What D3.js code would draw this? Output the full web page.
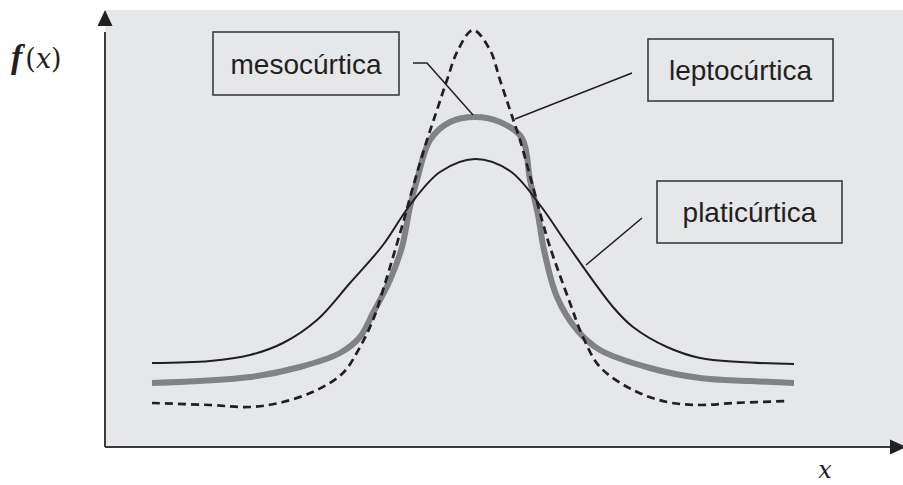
<!DOCTYPE html>
<meta charset="utf-8">
<style>
body { margin: 0; background: #fff; }
.curve { fill: none; }
.box rect { fill: #e6e7e9; stroke: #3d3b3c; stroke-width: 1.6; }
.box text { font-family: "Liberation Sans", Arial, sans-serif; font-size: 28px; fill: #231f20; text-anchor: middle; }
.leader { fill: none; stroke: #231f20; stroke-width: 1.5; }
.axis-line { stroke: #3d3b3c; stroke-width: 2; }
.lbl { fill: #231f20; }
</style>
<svg width="903" height="485"></svg>
<script src="https://d3js.org/d3.v7.min.js"></script>
<script>

// curves, x centred on the peak, y up from the x axis
var platiX = [-323, -265, -225, -192, -158, -125, -92, -65, -35, 0, 35, 65, 92, 138, 158, 192, 225, 265, 319];
var platiY = [84, 86, 92, 104, 127, 164, 202, 242, 275, 288, 276, 242, 203, 140, 120, 100, 89, 85, 83];

var mesoX = [-323, -225, -175, -135, -115, -102, -85, -73, -65, -58, -45, -25, 0, 25, 47, 55, 63, 69, 82, 102, 125, 175, 225, 275, 319];
var mesoY = [64, 70, 80, 94, 110, 134, 167, 200, 240, 267, 307, 325, 330, 325, 309, 267, 232, 197, 150, 117, 97, 79, 69, 66, 64];

var leptoX = [-323, -265, -225, -192, -158, -132, -115, -102, -92, -82, -72, -62, -48, -38, -28, -17, -2, 15, 25, 38, 45, 58, 67, 75, 95, 108, 125, 158, 192, 225, 258, 312];
var leptoY = [44, 42, 40, 45, 57, 74, 100, 127, 157, 190, 224, 260, 307, 337, 367, 397, 417, 397, 367, 328, 307, 260, 227, 200, 144, 110, 80, 57, 45, 42, 44, 46];

var labels = ["mesocúrtica", "leptocúrtica", "platicúrtica"];

var svg = d3.select("svg"),
    width = +svg.attr("width"),
    height = +svg.attr("height");

var x = d3.scaleLinear().domain([-370, 428]).range([105, 903]);
var y = d3.scaleLinear().domain([0, 437]).range([447, 10]);

// plot background
svg.append("rect")
    .attr("x", x(-370))
    .attr("y", y(437))
    .attr("width", x(428) - x(-370))
    .attr("height", y(0) - y(437))
    .style("fill", "#e6e7e9");

var line = d3.line()
    .x(function(d) { return x(d[0]); })
    .y(function(d) { return y(d[1]); })
    .curve(d3.curveCatmullRom.alpha(0.5));

function pts(xs, ys) { return xs.map(function(v, i) { return [v, ys[i]]; }); }

svg.append("path")
    .attr("class", "curve")
    .attr("d", line(pts(mesoX, mesoY)))
    .style("stroke", "#808285")
    .style("stroke-width", 6);

svg.append("path")
    .attr("class", "curve")
    .attr("d", line(pts(platiX, platiY)))
    .style("stroke", "#231f20")
    .style("stroke-width", 2);

svg.append("path")
    .attr("class", "curve")
    .attr("d", line(pts(leptoX, leptoY)))
    .style("stroke", "#231f20")
    .style("stroke-width", 2.7)
    .style("stroke-dasharray", "8,5");

// axes with arrow heads
svg.append("line").attr("class", "axis-line")
    .attr("x1", x(-370)).attr("y1", y(0))
    .attr("x2", x(-370)).attr("y2", y(415));
svg.append("line").attr("class", "axis-line")
    .attr("x1", x(-370)).attr("y1", y(0))
    .attr("x2", x(420)).attr("y2", y(0));

svg.append("path")
    .attr("d", "M" + x(-370) + "," + y(437) + "l-7.5,16l15,0z")
    .style("fill", "#231f20");
svg.append("path")
    .attr("d", "M" + (x(428) + 3) + "," + y(0) + "l-16,-7.5l0,15z")
    .style("fill", "#231f20");

// label boxes with leader lines, in data units
var boxes = [
  { cx: -169, cy: 383.5, w: 186, h: 63, lead: [[-62, 384], [-48, 384], [-2, 332]] },
  { cx: 265.5, cy: 377, w: 185, h: 62, lead: [[157, 374], [40, 328]] },
  { cx: 274.5, cy: 235, w: 185, h: 62, lead: [[167, 229], [111, 182]] }
];

var straight = d3.line()
    .x(function(d) { return x(d[0]); })
    .y(function(d) { return y(d[1]); });

boxes.forEach(function(b, i) {
  var g = svg.append("g").attr("class", "box");
  g.append("rect")
      .attr("x", x(b.cx) - b.w / 2)
      .attr("y", y(b.cy) - b.h / 2)
      .attr("width", b.w)
      .attr("height", b.h);
  g.append("text")
      .attr("x", x(b.cx))
      .attr("y", y(b.cy) + 10)
      .text(labels[i]);
  svg.append("path")
      .attr("class", "leader")
      .attr("d", straight(b.lead));
});

var fx = svg.append("text")
    .attr("class", "lbl")
    .attr("x", 11)
    .attr("y", 68);
fx.append("tspan").text("f")
    .style("font-family", "'Liberation Serif', serif")
    .style("font-style", "italic")
    .style("font-weight", "bold")
    .style("font-size", "34px");
fx.append("tspan").text("(")
    .attr("dx", 3)
    .style("font-family", "'DejaVu Serif', serif")
    .style("font-size", "27px");
fx.append("tspan").text("x")
    .style("font-family", "'DejaVu Serif', serif")
    .style("font-style", "italic")
    .style("font-size", "27px");
fx.append("tspan").text(")")
    .style("font-family", "'DejaVu Serif', serif")
    .style("font-size", "27px");

svg.append("text")
    .attr("class", "lbl")
    .attr("x", 825)
    .attr("y", 478)
    .style("font-family", "'DejaVu Serif', serif")
    .style("font-size", "24px")
    .style("font-style", "italic")
    .style("text-anchor", "middle")
    .text("x");

</script>
